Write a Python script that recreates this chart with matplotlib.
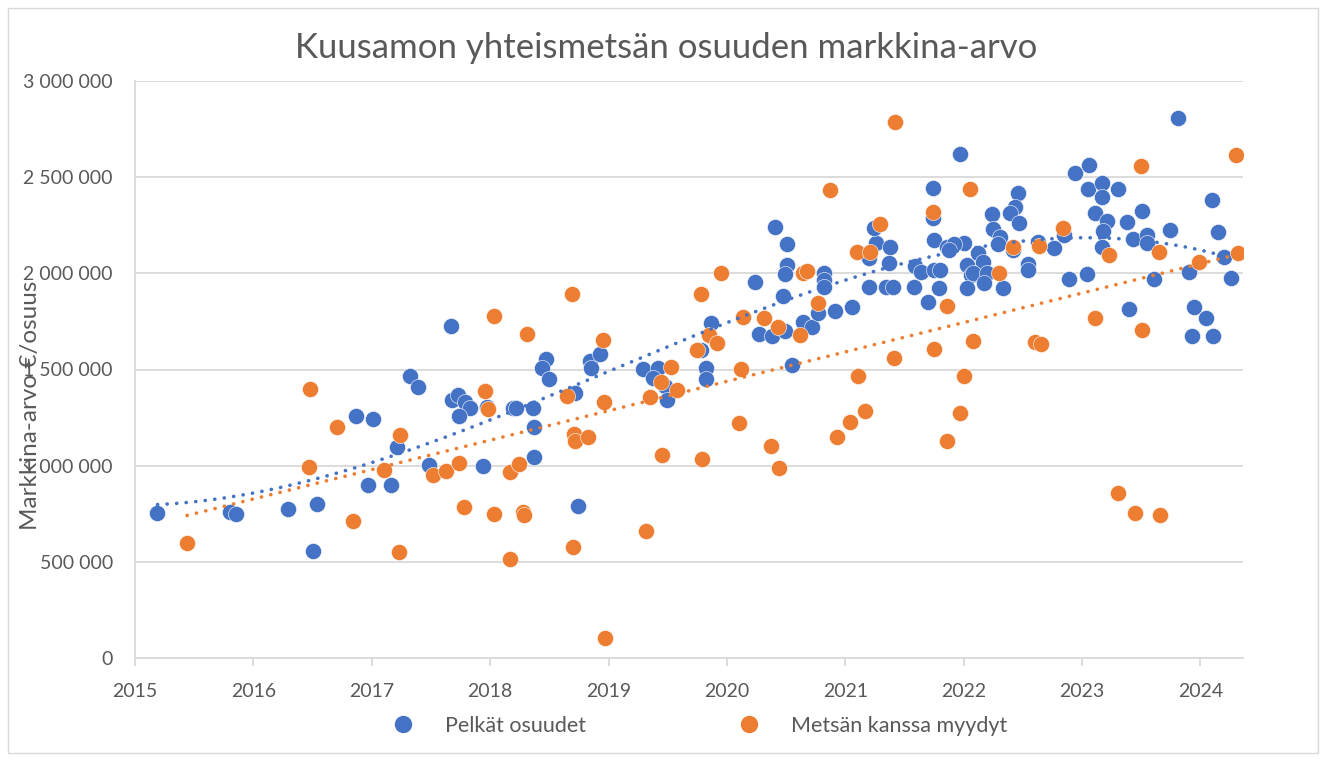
import numpy as np
import matplotlib
matplotlib.use("Agg")
import matplotlib.pyplot as plt
from matplotlib.ticker import FuncFormatter
from matplotlib.patches import Rectangle
from matplotlib.lines import Line2D

plt.rcParams["font.family"] = ["Lato", "DejaVu Sans"]

title = "Kuusamon yhteismetsän osuuden markkina-arvo"
ylabel = "Markkina-arvo €/osuus"
series_names = ["Pelkät osuudet", "Metsän kanssa myydyt"]
x_ticks = [2015, 2016, 2017, 2018, 2019, 2020, 2021, 2022, 2023, 2024]
y_ticks = [0, 500000, 1000000, 1500000, 2000000, 2500000, 3000000]

blue_year = [2015.19, 2015.80, 2015.85, 2016.29, 2016.54, 2016.50, 2016.87, 2017.01, 2016.97, 2017.16,
             2017.21, 2017.32, 2017.39, 2017.48, 2017.67, 2017.68, 2017.73, 2017.79, 2017.83, 2017.74,
             2017.97, 2017.94, 2018.19, 2018.22, 2018.36, 2018.37, 2018.37, 2018.47, 2018.44, 2018.50,
             2018.72, 2018.74, 2018.84, 2018.85, 2018.93, 2019.29, 2019.42, 2019.38, 2019.48, 2019.49,
             2019.78, 2019.82, 2019.82, 2019.87, 2020.24, 2020.27, 2020.38, 2020.49, 2020.41, 2020.51,
             2020.51, 2020.49, 2020.47, 2020.55, 2020.64, 2020.72, 2020.77, 2020.91, 2021.06, 2020.82,
             2020.82, 2020.82, 2021.20, 2021.20, 2021.26, 2021.24, 2021.38, 2021.37, 2021.34, 2021.40,
             2021.58, 2021.59, 2021.64, 2021.75, 2021.79, 2021.70, 2021.75, 2021.74, 2021.74, 2021.86,
             2021.97, 2022.00, 2022.03, 2022.06, 2022.03, 2023.81, 2022.94, 2023.06, 2023.05, 2023.17,
             2023.17, 2023.30, 2023.11, 2023.21, 2023.18, 2023.17, 2023.38, 2023.51, 2023.43, 2023.55,
             2023.55, 2023.74, 2024.10, 2024.15, 2024.20, 2024.26, 2023.90, 2023.61, 2023.40, 2023.04,
             2022.89, 2023.95, 2024.05, 2023.93, 2024.11, 2022.46, 2022.43, 2022.39, 2022.47, 2022.24,
             2022.25, 2022.31, 2022.29, 2022.42, 2022.63, 2022.76, 2022.85, 2022.54, 2022.54, 2022.12,
             2022.16, 2022.08, 2022.20, 2022.17, 2022.33, 2021.80, 2021.92, 2021.88]
blue_value_k = [754, 759, 749, 775, 801, 556, 1258, 1243, 899, 899,
                1097, 1466, 1409, 1003, 1726, 1341, 1367, 1331, 1300, 1258,
                1305, 998, 1300, 1300, 1300, 1201, 1045, 1555, 1508, 1451,
                1378, 790, 1544, 1508, 1580, 1503, 1508, 1456, 1414, 1341,
                1601, 1508, 1451, 1742, 1955, 1684, 1674, 1700, 2241, 2152,
                2043, 1996, 1882, 1523, 1747, 1721, 1794, 1804, 1825, 2002,
                1965, 1929, 1929, 2080, 2158, 2236, 2137, 2054, 1929, 1929,
                1929, 2038, 2007, 2017, 1924, 1851, 2173, 2288, 2444, 2137,
                2620, 2158, 2043, 1991, 1924, 2807, 2522, 2563, 2438, 2470,
                2397, 2438, 2314, 2272, 2220, 2137, 2267, 2324, 2178, 2199,
                2158, 2225, 2381, 2215, 2085, 1976, 2007, 1970, 1814, 1996,
                1970, 1825, 1768, 1674, 1674, 2418, 2345, 2314, 2262, 2308,
                2230, 2189, 2152, 2121, 2163, 2132, 2199, 2048, 2017, 2106,
                2059, 2002, 2002, 1950, 1924, 2017, 2150, 2120]

orange_year = [2015.44, 2016.48, 2016.71, 2016.47, 2016.84, 2017.23, 2017.10, 2017.24, 2018.69, 2018.03,
               2018.31, 2018.95, 2019.78, 2019.75, 2017.96, 2017.98, 2018.65, 2018.96, 2018.71, 2018.72,
               2018.83, 2019.45, 2019.79, 2019.35, 2019.44, 2019.53, 2019.58, 2017.52, 2017.63, 2017.74,
               2018.17, 2018.24, 2017.78, 2018.03, 2018.28, 2018.29, 2018.70, 2018.17, 2019.32, 2018.97,
               2020.87, 2021.74, 2022.05, 2021.29, 2021.10, 2021.21, 2020.64, 2020.68, 2019.95, 2020.77,
               2020.14, 2020.31, 2020.43, 2020.62, 2019.85, 2019.92, 2020.12, 2021.11, 2021.41, 2021.75,
               2022.08, 2021.86, 2022.00, 2021.97, 2021.86, 2020.10, 2020.37, 2020.44, 2020.93, 2021.04,
               2021.17, 2023.50, 2024.30, 2022.42, 2022.64, 2022.84, 2023.23, 2023.65, 2023.99, 2024.32,
               2022.30, 2023.11, 2023.51, 2022.60, 2022.65, 2023.30, 2023.45, 2023.66, 2021.42]
orange_value_k = [598, 1399, 1201, 993, 712, 551, 977, 1159, 1892, 1778,
                  1684, 1653, 1892, 1601, 1388, 1295, 1362, 1331, 1165, 1128,
                  1149, 1055, 1035, 1357, 1435, 1513, 1393, 951, 972, 1014,
                  967, 1009, 785, 749, 759, 743, 577, 515, 660, 104,
                  2433, 2319, 2438, 2256, 2111, 2111, 2002, 2012, 2002, 1846,
                  1773, 1768, 1721, 1679, 1679, 1638, 1503, 1466, 1560, 1607,
                  1648, 1830, 1466, 1274, 1128, 1222, 1102, 988, 1149, 1227,
                  1284, 2558, 2615, 2137, 2142, 2236, 2095, 2111, 2059, 2106,
                  2002, 1768, 1705, 1643, 1633, 858, 754, 743, 2787]

BLUE = "#4472C4"
ORANGE = "#ED7D31"
TXT = "#595959"
GRID = "#D9D9D9"

bx = np.array(blue_year)
by = np.array(blue_value_k) * 1000.0
ox = np.array(orange_year)
oy = np.array(orange_value_k) * 1000.0

fig = plt.figure(figsize=(13.26, 7.61), dpi=100)
fig.patch.set_facecolor("white")
fig.patches.append(Rectangle((8 / 1326, 8 / 761), 1310 / 1326, 745 / 761,
                             transform=fig.transFigure, fill=False,
                             edgecolor=GRID, linewidth=1.0))

ax = fig.add_axes([135 / 1326, 1 - 658 / 761, 1108 / 1326, 577 / 761])
ax.set_xlim(2015, 2024.36)
ax.set_ylim(0, 3000000)

ax.scatter(bx, by, s=135, color=BLUE, edgecolors="white", linewidths=0.4, zorder=3)
ax.scatter(ox, oy, s=135, color=ORANGE, edgecolors="white", linewidths=0.4, zorder=4)

# trendlines (Excel style): polynomial for blue, linear for orange
pb = np.polyfit(bx, by, 3)
xb = np.linspace(bx.min(), bx.max(), 300)
ax.plot(xb, np.polyval(pb, xb), color=BLUE, lw=2.6, linestyle=(0, (0.05, 2.6)),
        dash_capstyle="round", zorder=5)
po = np.polyfit(ox, oy, 1)
xo = np.linspace(ox.min(), ox.max(), 300)
ax.plot(xo, np.polyval(po, xo), color=ORANGE, lw=2.6, linestyle=(0, (0.05, 2.6)),
        dash_capstyle="round", zorder=5)

ax.set_yticks(y_ticks)
ax.set_xticks(x_ticks)
ax.yaxis.set_major_formatter(FuncFormatter(lambda v, p: f"{int(v):,}".replace(",", " ")))
ax.grid(axis="y", color=GRID, linewidth=1.3)
ax.set_axisbelow(True)
for s in ["top", "right"]:
    ax.spines[s].set_visible(False)
ax.spines["left"].set_color(GRID)
ax.spines["left"].set_linewidth(1.3)
ax.spines["bottom"].set_color(GRID)
ax.spines["bottom"].set_linewidth(1.3)
ax.tick_params(axis="y", length=0, pad=16, labelsize=14, labelcolor=TXT)
ax.tick_params(axis="x", length=6, width=1.3, color=GRID, direction="out", pad=12,
               labelsize=14, labelcolor=TXT)

fig.text(666 / 1326, 1 - 48 / 761, title, ha="center", va="center", fontsize=25,
         color=TXT)
fig.text(31 / 1326, 1 - 405 / 761, ylabel, ha="center", va="center", rotation=90,
         fontsize=17.5, color=TXT)

handles = [Line2D([], [], marker="o", linestyle="none", color=BLUE, markersize=11.5),
           Line2D([], [], marker="o", linestyle="none", color=ORANGE, markersize=11.5)]
fig.legend(handles, series_names, loc="center", bbox_to_anchor=(697 / 1326, 1 - 726 / 761),
           ncol=2, frameon=False, fontsize=15.5, labelcolor=TXT, columnspacing=6.8,
           handletextpad=1.2, handlelength=1.5)

fig.savefig("out.png", dpi=100, facecolor="white")
